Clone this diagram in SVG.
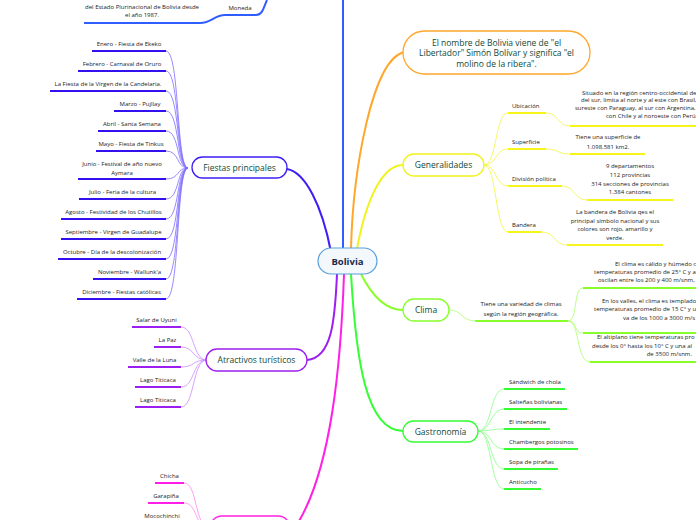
<svg xmlns="http://www.w3.org/2000/svg" width="696" height="520" viewBox="0 0 696 520">
<style>
text{font-family:"Open Sans","Noto Sans","Liberation Sans",sans-serif}
.s{font-size:6px;fill:#1a1a1a}
.m{font-size:8.5px;fill:#0f4a3a;text-anchor:middle}
.c{fill:none}
.u{fill:none;stroke-width:2}
.mid{text-anchor:middle}
.end{text-anchor:end}
</style>
<rect width="696" height="520" fill="#ffffff"/>
<g id="connectors">
  <path class="c" d="M343,249 L343,0" stroke="#2f5dff" stroke-width="2"/>
  <path class="c" d="M331,252 C322,205 305,172 287,169" stroke="#3d1ff5" stroke-width="2"/>
  <path class="c" d="M337,274 C335,320 332,358 307,360" stroke="#9b1ff0" stroke-width="2"/>
  <path class="c" d="M344,274 C341,360 332,470 296,526" stroke="#ff1fe6" stroke-width="2"/>
  <path class="c" d="M351,249 C353,170 372,60 404,52" stroke="#ffa62b" stroke-width="2"/>
  <path class="c" d="M357,249 C366,200 382,165 403,165" stroke="#f2f21a" stroke-width="2"/>
  <path class="c" d="M361,274 C372,296 386,310 403,310" stroke="#88ff2a" stroke-width="2"/>
  <path class="c" d="M351,274 C356,360 366,431 403,431" stroke="#33ff33" stroke-width="2"/>
  <path class="u" d="M84,23 L200,23 C212,23 214,15 225,15 L256,15 C263,15 264,6 267,0" stroke="#2f5dff" stroke-width="1.5"/>
  <g stroke="#7d6bff" stroke-width="0.8" class="c">
    <path d="M166,51 C180,51 176,168 188,168"/>
    <path d="M166,71 C180,71 176,168 188,168"/>
    <path d="M166,91 C180,91 176,168 188,168"/>
    <path d="M166,111 C180,111 176,168 188,168"/>
    <path d="M166,131 C180,131 176,168 188,168"/>
    <path d="M166,151 C180,151 176,168 188,168"/>
    <path d="M166,179 C180,179 176,168 188,168"/>
    <path d="M166,199 C180,199 176,168 188,168"/>
    <path d="M166,219 C180,219 176,168 188,168"/>
    <path d="M166,239 C180,239 176,168 188,168"/>
    <path d="M166,259 C180,259 176,168 188,168"/>
    <path d="M166,279 C180,279 176,168 188,168"/>
    <path d="M166,299 C180,299 176,168 188,168"/>
  </g>
  <g stroke="#3311ee" class="u" stroke-width="1.6">
    <path d="M92,51 H166"/><path d="M78,71 H166"/><path d="M50,91 H166"/>
    <path d="M114,111 H166"/><path d="M98,131 H166"/><path d="M96,151 H166"/>
    <path d="M78,179 H166"/><path d="M79,199 H166"/><path d="M61,219 H166"/>
    <path d="M61,239 H166"/><path d="M58,259 H166"/><path d="M93,279 H166"/>
    <path d="M77,299 H166"/>
  </g>
  <g stroke="#c98cff" stroke-width="0.8" class="c">
    <path d="M181,327 C195,327 192,360 207,360"/>
    <path d="M181,347 C195,347 192,360 207,360"/>
    <path d="M181,367 C195,367 192,360 207,360"/>
    <path d="M181,387 C195,387 192,360 207,360"/>
    <path d="M181,407 C195,407 192,360 207,360"/>
  </g>
  <g stroke="#9b1ff0" class="u" stroke-width="1.6">
    <path d="M132,327 H181"/><path d="M154,347 H181"/><path d="M128,367 H181"/>
    <path d="M135,387 H181"/><path d="M135,407 H181"/>
  </g>
  <g stroke="#ff88ee" stroke-width="0.8" class="c">
    <path d="M184,483 C198,483 194,528 210,528"/>
    <path d="M184,503 C198,503 194,528 210,528"/>
    <path d="M184,523 C198,523 194,528 210,528"/>
  </g>
  <g stroke="#ff1fe6" class="u" stroke-width="1.6">
    <path d="M155,483 H184"/><path d="M148,503 H184"/>
  </g>
  <g stroke="#f5f540" stroke-width="0.8" class="c">
    <path d="M484,165 C497,165 495,113 508,113"/>
    <path d="M484,165 C497,165 495,149 508,149"/>
    <path d="M484,165 C497,165 495,186 508,186"/>
    <path d="M484,165 C497,165 495,232 508,232"/>
    <path d="M546,113 C559,113 557,126 570,126"/>
    <path d="M546,149 C559,149 557,154 570,154"/>
    <path d="M562,186 C575,186 574,200 587,200"/>
    <path d="M542,232 C555,232 554,245 567,245"/>
  </g>
  <g stroke="#f5f51a" class="u" stroke-width="1.6">
    <path d="M508,113 H546"/><path d="M508,149 H546"/><path d="M508,186 H562"/><path d="M508,232 H542"/>
    <path d="M570,126 H696"/><path d="M570,154 H645"/><path d="M587,200 H673"/><path d="M567,245 H663"/>
  </g>
  <g stroke="#a8ff6a" stroke-width="0.8" class="c">
    <path d="M449,310 C462,310 462,321 475,321"/>
    <path d="M568,321 C578,321 573,288 583,288"/>
    <path d="M568,321 C578,321 573,333 583,333"/>
    <path d="M568,321 C580,321 576,362 590,362"/>
  </g>
  <g stroke="#88ff2a" class="u" stroke-width="1.6">
    <path d="M475,321 H568"/><path d="M583,288 H696"/><path d="M583,333 H696"/><path d="M590,362 H696"/>
  </g>
  <g stroke="#8cff8c" stroke-width="0.8" class="c">
    <path d="M478,431 C492,431 490,389 504,389"/>
    <path d="M478,431 C492,431 490,409 504,409"/>
    <path d="M478,431 C492,431 490,429 504,429"/>
    <path d="M478,431 C492,431 490,449 504,449"/>
    <path d="M478,431 C492,431 490,469 504,469"/>
    <path d="M478,431 C492,431 490,489 504,489"/>
  </g>
  <g stroke="#33ff33" class="u" stroke-width="1.6">
    <path d="M504,389 H565"/><path d="M504,409 H567"/><path d="M504,429 H550"/>
    <path d="M504,449 H578"/><path d="M504,469 H558"/><path d="M504,489 H541"/>
  </g>
</g>

<g id="bolivia">
  <rect x="318" y="248" width="59" height="26" rx="13" fill="#f3f8fd" stroke="#5a9fdc" stroke-width="1.2"/>
  <text x="347.5" y="264.5" class="mid" font-size="9.5" font-weight="bold" fill="#1b2a4a">Bolivia</text>
</g>

<g id="moneda">
  <text x="240" y="10" class="s mid">Moneda</text>
  <text x="142" y="9" class="s mid">del Estado Plurinacional de Bolivia desde</text>
  <text x="142" y="17" class="s mid">el año 1987.</text>
</g>

<g id="fiestas">
  <rect x="192" y="157" width="95" height="21" rx="10.5" fill="#ffffff" stroke="#3d1ff5" stroke-width="1.3"/>
  <text x="239.5" y="170.5" class="m">Fiestas principales</text>
  <g class="s mid">
    <text x="129" y="46">Enero - Fiesta de Ekeko</text>
    <text x="122" y="66">Febrero - Carnaval de Oruro</text>
    <text x="108" y="86">La Fiesta de la Virgen de la Candelaria.</text>
    <text x="140" y="106">Marzo - Pujllay</text>
    <text x="132" y="126">Abril - Santa Semana</text>
    <text x="131" y="146">Mayo - Fiesta de Tinkus</text>
    <text x="122" y="166">Junio - Festival de año nuevo</text>
    <text x="122" y="175">Aymara</text>
    <text x="122.5" y="194">Julio - Feria de la cultura</text>
    <text x="113.5" y="214">Agosto - Festividad de los Chutillos</text>
    <text x="113.5" y="234">Septiembre - Virgen de Guadalupe</text>
    <text x="112" y="254">Octubre - Día de la descolonización</text>
    <text x="129.5" y="274">Noviembre - Wallunk'a</text>
    <text x="121.5" y="294">Diciembre - Fiestas católicas</text>
  </g>
</g>

<g id="atractivos">
  <rect x="206" y="349" width="101" height="22" rx="11" fill="#ffffff" stroke="#9b1ff0" stroke-width="1.3"/>
  <text x="256.5" y="363" class="m">Atractivos turísticos</text>
  <g class="s mid">
    <text x="156.5" y="322">Salar de Uyuni</text>
    <text x="167.5" y="342">La Paz</text>
    <text x="154.5" y="362">Valle de la Luna</text>
    <text x="158" y="382">Lago Titicaca</text>
    <text x="158" y="402">Lago Titicaca</text>
  </g>
</g>

<g id="bebidas">
  <rect x="210" y="516" width="80" height="24" rx="12" fill="#ffffff" stroke="#ff1fe6" stroke-width="1.3"/>
  <g class="s mid">
    <text x="169.5" y="478">Chicha</text>
    <text x="166" y="498">Garapiña</text>
    <text x="162" y="518">Mocochinchi</text>
  </g>
</g>

<g id="nombre">
  <rect x="403" y="31" width="187" height="43" rx="21.5" fill="#ffffff" stroke="#ffa62b" stroke-width="1.3"/>
  <text x="496.5" y="45.5" class="m">El nombre de Bolivia viene de  "el</text>
  <text x="496.5" y="56" class="m">Libertador" Simón Bolívar y significa "el</text>
  <text x="496.5" y="66.5" class="m">molino de la ribera".</text>
</g>

<g id="generalidades">
  <rect x="403" y="154" width="81" height="22" rx="11" fill="#ffffff" stroke="#f2f21a" stroke-width="1.3"/>
  <text x="443.5" y="168" class="m">Generalidades</text>
  <g class="s">
    <text x="512" y="108">Ubicación</text>
    <text x="512" y="144">Superficie</text>
    <text x="512" y="181">División política</text>
    <text x="512" y="227">Bandera</text>
  </g>
  <g class="s">
    <text x="582" y="95">Situado en la región centro-occidental de</text>
    <text x="581" y="102">del sur, limita al norte y al este con Brasil,</text>
    <text x="575" y="110">sureste con Paraguay, al sur con Argentina,</text>
    <text x="606" y="118">con Chile y al noroeste con Perú.</text>
  </g>
  <g class="s mid">
    <text x="608" y="139">Tiene una superficie de</text>
    <text x="608" y="149">1.098.581 km2.</text>
    <text x="630" y="168">9 departamentos</text>
    <text x="630" y="177">112 provincias</text>
    <text x="630" y="186">314 secciones de provincias</text>
    <text x="630" y="194">1.384 cantones</text>
    <text x="615" y="214">La bandera de Bolivia qes el</text>
    <text x="615" y="223">principal símbolo nacional y sus</text>
    <text x="615" y="231">colores son rojo, amarillo y</text>
    <text x="615" y="240">verde.</text>
  </g>
</g>

<g id="clima">
  <rect x="403" y="299" width="46" height="22" rx="11" fill="#ffffff" stroke="#88ff2a" stroke-width="1.3"/>
  <text x="426" y="313" class="m">Clima</text>
  <g class="s mid">
    <text x="521" y="306">Tiene una variedad de climas</text>
    <text x="521" y="316">según la región geográfica.</text>
  </g>
  <g class="s">
    <text x="615" y="266">El clima es cálido y húmedo c</text>
    <text x="594" y="274">temperaturas promedio de 25° C y a</text>
    <text x="598" y="282">oscilan entre los 200 y 400 m/snm,</text>
    <text x="602" y="303">En los valles, el clima es templado</text>
    <text x="594" y="311">temperaturas promedio de 15 C° y u</text>
    <text x="623" y="320">va de los 1000 a 3000 m/s</text>
    <text x="597" y="339">El altiplano tiene temperaturas pro</text>
    <text x="592" y="348">desde los 0° hasta los 10° C y una al</text>
    <text x="692" y="356" class="end">de 3500 m/snm.</text>
  </g>
</g>

<g id="gastronomia">
  <rect x="403" y="421" width="75" height="21" rx="10.5" fill="#ffffff" stroke="#33ff33" stroke-width="1.3"/>
  <text x="440.5" y="434.5" class="m">Gastronomía</text>
  <g class="s">
    <text x="509" y="384">Sándwich de chola</text>
    <text x="509" y="404">Salteñas bolivianas</text>
    <text x="509" y="424">El intendente</text>
    <text x="509" y="444">Chambergos potosinos</text>
    <text x="509" y="464">Sopa de pirañas</text>
    <text x="509" y="484">Anticucho</text>
  </g>
</g>
</svg>
